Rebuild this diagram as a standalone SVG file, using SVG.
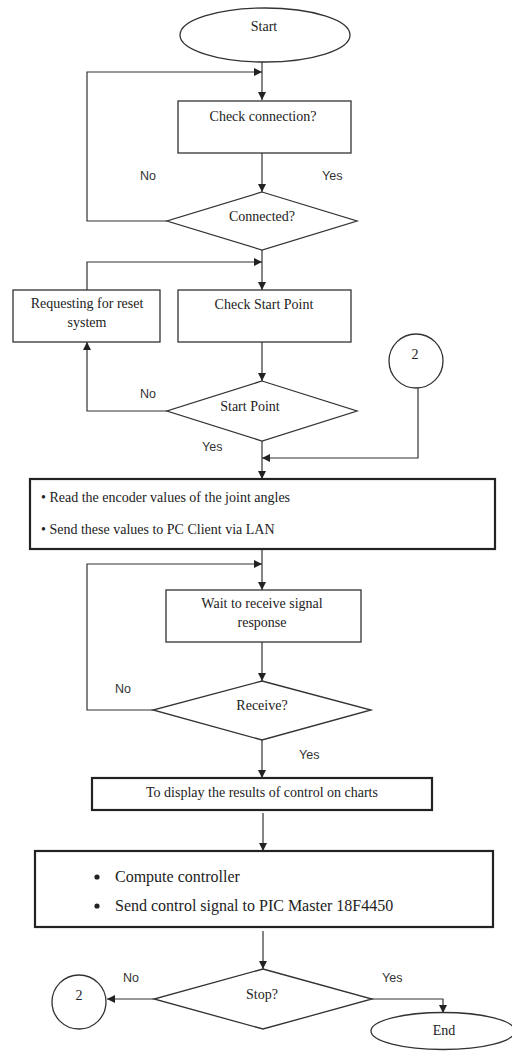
<svg xmlns="http://www.w3.org/2000/svg" width="512" height="1052" viewBox="0 0 512 1052">
  <defs>
    <marker id="arrow" viewBox="0 0 8 8" refX="8" refY="4" markerWidth="8" markerHeight="8" markerUnits="userSpaceOnUse" orient="auto">
      <path d="M0,0 L8,4 L0,8 Z" fill="#222"/>
    </marker>
    <style>
      .shape { fill: #fff; stroke: #333; stroke-width: 1.3; }
      .thick { fill: #fff; stroke: #222; stroke-width: 2.2; }
      .conn { fill: none; stroke: #333; stroke-width: 1.2; }
      .txt { font-family: "Liberation Serif", "Times New Roman", serif; font-size: 14px; fill: #222; text-anchor: middle; }
      .list { font-family: "Liberation Serif", "Times New Roman", serif; font-size: 14px; fill: #222; }
      .big { font-family: "Liberation Serif", "Times New Roman", serif; font-size: 16px; fill: #222; }
      .lbl { font-family: "Liberation Sans", Arial, sans-serif; font-size: 12.5px; fill: #333; }
    </style>
  </defs>

  <rect width="512" height="1052" fill="#fff"/>

  <!-- connectors -->
  <g id="connectors">
    <path class="conn" d="M262,62 V100" marker-end="url(#arrow)"/>
    <path class="conn" d="M262,153 V192" marker-end="url(#arrow)"/>
    <path class="conn" d="M167,221 H87 V72 H262" marker-end="url(#arrow)"/>
    <path class="conn" d="M262,250 V290" marker-end="url(#arrow)"/>
    <path class="conn" d="M167,411 H87 V342" marker-end="url(#arrow)"/>
    <path class="conn" d="M87,290 V262 H262" marker-end="url(#arrow)"/>
    <path class="conn" d="M262,342 V381" marker-end="url(#arrow)"/>
    <path class="conn" d="M262,441 V479" marker-end="url(#arrow)"/>
    <path class="conn" d="M418,388 V458 H262" marker-end="url(#arrow)"/>
    <path class="conn" d="M262,549 V590" marker-end="url(#arrow)"/>
    <path class="conn" d="M262,642 V681" marker-end="url(#arrow)"/>
    <path class="conn" d="M153,710 H87 V564 H262" marker-end="url(#arrow)"/>
    <path class="conn" d="M262,740 V778" marker-end="url(#arrow)"/>
    <path class="conn" d="M263,813 V851" marker-end="url(#arrow)"/>
    <path class="conn" d="M263,931 V969" marker-end="url(#arrow)"/>
    <path class="conn" d="M154,999 H107" marker-end="url(#arrow)"/>
    <path class="conn" d="M372,999 H443 V1013" marker-end="url(#arrow)"/>

    <text class="lbl" x="140" y="180">No</text>
    <text class="lbl" x="322" y="180">Yes</text>
    <text class="lbl" x="140" y="398">No</text>
    <text class="lbl" x="202" y="451">Yes</text>
    <text class="lbl" x="115" y="693">No</text>
    <text class="lbl" x="299" y="759">Yes</text>
    <text class="lbl" x="123" y="982">No</text>
    <text class="lbl" x="382" y="982">Yes</text>
  </g>

  <!-- nodes -->
  <g id="start">
    <ellipse class="shape" cx="265" cy="35" rx="85" ry="27"/>
    <text class="txt" x="264" y="31">Start</text>
  </g>

  <g id="check-connection">
    <rect class="shape" x="178" y="101" width="173" height="52"/>
    <text class="txt" x="263" y="121">Check connection?</text>
  </g>

  <g id="connected">
    <polygon class="shape" points="262,192 357,221 262,250 167,221"/>
    <text class="txt" x="262" y="221">Connected?</text>
  </g>

  <g id="request-reset">
    <rect class="shape" x="13" y="290" width="147" height="52"/>
    <text class="txt" x="87" y="308">Requesting for reset</text>
    <text class="txt" x="87" y="327">system</text>
  </g>

  <g id="check-start-point">
    <rect class="shape" x="178" y="290" width="173" height="52"/>
    <text class="txt" x="264" y="309">Check Start Point</text>
  </g>

  <g id="start-point">
    <polygon class="shape" points="262,381 357,411 262,441 167,411"/>
    <text class="txt" x="250" y="411">Start Point</text>
  </g>

  <g id="connector-2-top">
    <circle class="shape" cx="416" cy="361" r="27"/>
    <text class="txt" x="415" y="359">2</text>
  </g>

  <g id="read-encoder">
    <rect class="thick" x="30" y="479" width="465" height="70"/>
    <text class="list" x="41" y="502">• Read the encoder values of the joint angles</text>
    <text class="list" x="41" y="534">• Send these values to PC Client via LAN</text>
  </g>

  <g id="wait-signal">
    <rect class="shape" x="166" y="590" width="195" height="52"/>
    <text class="txt" x="262" y="608">Wait to receive signal</text>
    <text class="txt" x="262" y="627">response</text>
  </g>

  <g id="receive">
    <polygon class="shape" points="262,681 371,710 262,740 153,710"/>
    <text class="txt" x="262" y="710">Receive?</text>
  </g>

  <g id="display-results">
    <rect class="thick" x="92" y="778" width="340" height="32"/>
    <text class="txt" x="262" y="797">To display the results of control on charts</text>
  </g>

  <g id="compute">
    <rect class="thick" x="35" y="851" width="458" height="76"/>
    <circle cx="97" cy="877" r="2.6" fill="#222"/>
    <text class="big" x="115" y="882">Compute controller</text>
    <circle cx="97" cy="906" r="2.6" fill="#222"/>
    <text class="big" x="115" y="911">Send control signal to PIC Master 18F4450</text>
  </g>

  <g id="stop">
    <polygon class="shape" points="263,969 372,999 263,1029 154,999"/>
    <text class="txt" x="262" y="999">Stop?</text>
  </g>

  <g id="connector-2-bottom">
    <circle class="shape" cx="79" cy="1002" r="27"/>
    <text class="txt" x="79" y="1000">2</text>
  </g>

  <g id="end">
    <ellipse class="shape" cx="443" cy="1031" rx="72" ry="18.5"/>
    <text class="txt" x="444" y="1035">End</text>
  </g>
</svg>
